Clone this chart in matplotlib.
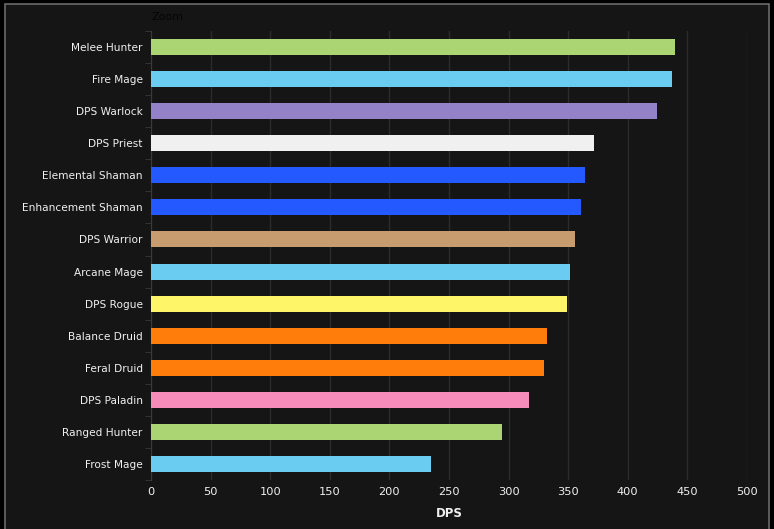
import numpy as np
import matplotlib
matplotlib.use('Agg')
import matplotlib.pyplot as plt
from matplotlib.patches import Rectangle

# data, top to bottom as shown
specs = ['Melee Hunter', 'Fire Mage', 'DPS Warlock', 'DPS Priest', 'Elemental Shaman',
         'Enhancement Shaman', 'DPS Warrior', 'Arcane Mage', 'DPS Rogue', 'Balance Druid',
         'Feral Druid', 'DPS Paladin', 'Ranged Hunter', 'Frost Mage']
dps = [439.5, 437, 424.5, 371.5, 364, 360.5, 355.5, 351.5, 349, 332, 329.5, 317, 294.5, 235]
colors = ['#ABD473', '#69CCF0', '#9482C9', '#F0F0F0', '#2459FF', '#2459FF', '#C79C6E',
          '#69CCF0', '#FFF569', '#FF7D0A', '#FF7D0A', '#F58CBA', '#ABD473', '#69CCF0']
xticks = [0, 50, 100, 150, 200, 250, 300, 350, 400, 450, 500]

W, H = 774, 529
fig = plt.figure(figsize=(W / 100, H / 100), dpi=100)
fig.patch.set_facecolor('#000000')

# inner panel with light frame
fig.patches.append(Rectangle((5 / W, -0.01), (769 - 5) / W, (H - 4) / H + 0.01,
                             transform=fig.transFigure, facecolor='#151515',
                             edgecolor='#6a6a6a', linewidth=1.2, zorder=-10))

left, right = 151 / W, 747 / W
top, bottom = 1 - 31 / H, 1 - 480 / H
ax = fig.add_axes([left, bottom, right - left, top - bottom])
ax.set_facecolor('none')
ax.set_zorder(5)

n = len(specs)
y = np.arange(n)[::-1]
ax.barh(y, dps, height=0.5, color=colors, zorder=3)

ax.set_xlim(0, 500)
ax.set_ylim(-0.5, n - 0.5)
ax.set_xticks(xticks)
ax.set_xticklabels([str(t) for t in xticks])
ax.set_yticks(y)
ax.set_yticklabels(specs)
ax.set_yticks(np.arange(n + 1) - 0.5, minor=True)

ax.grid(axis='x', color='#2c2c2c', linewidth=1, zorder=0)
for s in ['top', 'right', 'bottom']:
    ax.spines[s].set_visible(False)
ax.spines['left'].set_color('#3a3a3a')

ax.tick_params(axis='y', which='major', length=0, pad=6, labelcolor='#f0f0f0', labelsize=7.6)
ax.tick_params(axis='y', which='minor', length=4, color='#3a3a3a')
ax.tick_params(axis='x', length=0, pad=5, labelcolor='#f0f0f0', labelsize=8.2)

ax.set_xlabel('DPS', color='#f0f0f0', fontsize=8.5, fontweight='bold', labelpad=7)
fig.text(151 / W, 1 - 17 / H, 'Zoom', color='#050505', fontsize=8, va='center', ha='left')

fig.savefig('out.png', dpi=100, facecolor=fig.get_facecolor())
